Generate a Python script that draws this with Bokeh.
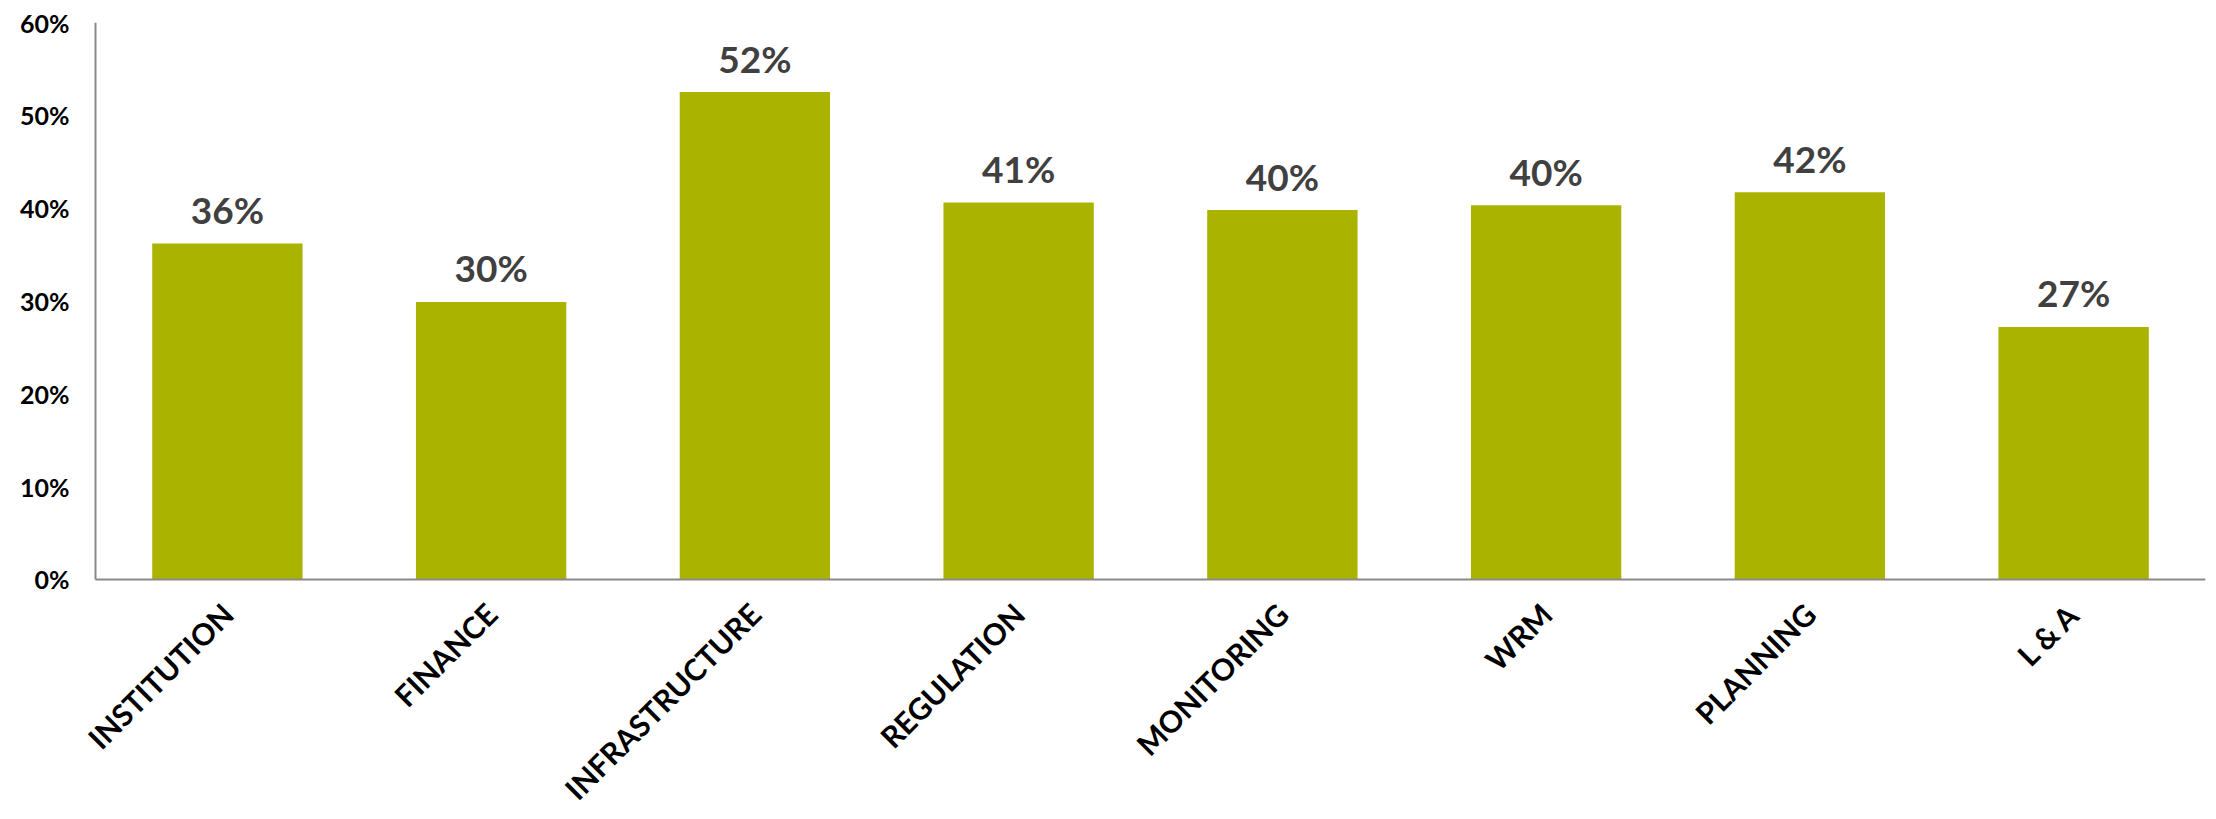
from bokeh.plotting import figure
from bokeh.models import ColumnDataSource, FixedTicker, PrintfTickFormatter, Range1d
from bokeh.core.properties import value
from bokeh.embed import file_html
from bokeh.resources import INLINE
import math

categories = ["INSTITUTION", "FINANCE", "INFRASTRUCTURE", "REGULATION",
              "MONITORING", "WRM", "PLANNING", "L & A"]
values = [36.2, 29.9, 52.5, 40.6, 39.8, 40.3, 41.7, 27.2]
labels = ["36%", "30%", "52%", "41%", "40%", "40%", "42%", "27%"]
y_ticks = [0, 10, 20, 30, 40, 50, 60]

n = len(categories)
xpos = [i + 0.5 for i in range(n)]          # slot centres of the categories
src = ColumnDataSource(dict(x=xpos, cat=categories, val=values, lab=labels,
                            base=[0] * n))

p = figure(x_range=Range1d(-0.0986, n), y_range=Range1d(-25, y_ticks[-1]),
           width=2208, height=811, output_backend="svg", toolbar_location=None,
           min_border_left=69, min_border_right=3, min_border_top=22, min_border_bottom=0)

p.vbar(x="x", top="val", width=0.57, source=src, fill_color="#AAB400", line_color=None)
p.text(x="x", y="val", text="lab", source=src, y_offset=-34,
       text_align="center", text_baseline="alphabetic",
       text_font=value("Lato"), text_font_style="bold", text_font_size="37px",
       text_color="#404040")

# category labels under the x axis, rotated 45 degrees
p.text(x="x", y="base", text="cat", source=src, y_offset=29,
       angle=math.pi / 4, text_align="right", text_baseline="middle",
       text_font=value("Lato"), text_font_style="bold", text_font_size="30px",
       text_color="black")

# axis lines (x axis along 0 across all category slots, y axis from 0 to top tick)
p.segment(x0=[0, 0], y0=[y_ticks[0], y_ticks[0]], x1=[n, 0], y1=[y_ticks[0], y_ticks[-1]],
          line_color="#898989", line_width=2)

p.grid.visible = False
p.outline_line_color = None
p.background_fill_color = "white"
p.xaxis.visible = False

yax = p.yaxis[0]
yax.ticker = FixedTicker(ticks=y_ticks)
yax.formatter = PrintfTickFormatter(format="%d%%")
yax.axis_line_color = None
yax.major_tick_line_color = None
yax.minor_tick_line_color = None
yax.major_tick_out = 0
yax.major_tick_in = 0
yax.major_label_text_font = "Lato"
yax.major_label_text_font_style = "bold"
yax.major_label_text_color = "black"
yax.major_label_text_font_size = "25px"
yax.major_label_standoff = 0

open("out.html", "w").write(file_html(p, INLINE))
